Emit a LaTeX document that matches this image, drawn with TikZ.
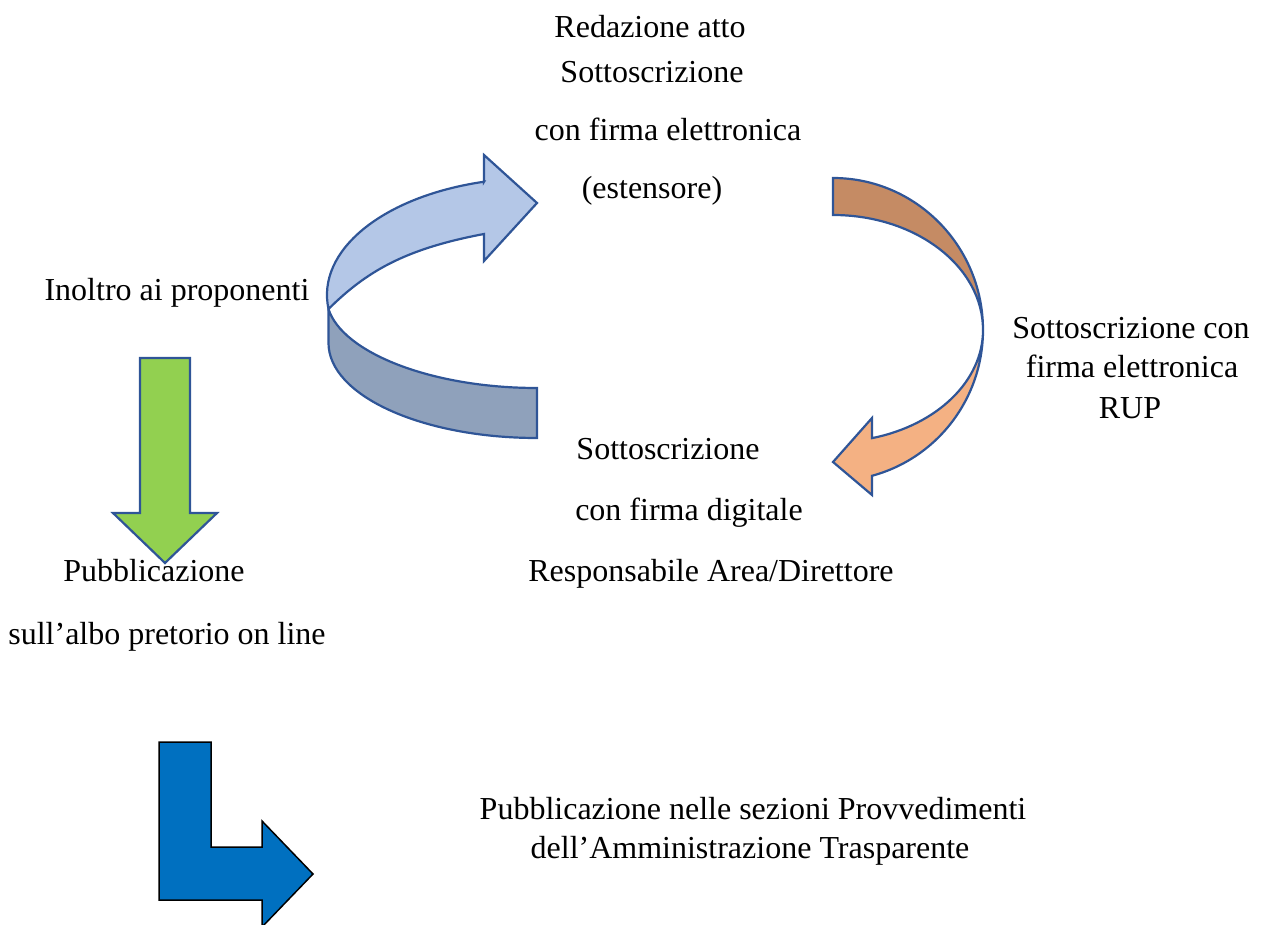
\documentclass[tikz,border=0pt]{standalone}
\usepackage{fontspec}
\setmainfont{Liberation Serif}
\usetikzlibrary{positioning}
\definecolor{ribbonfront}{HTML}{B4C7E7}
\definecolor{ribbonback}{HTML}{8FA1BB}
\definecolor{turnback}{HTML}{C58B64}
\definecolor{turnfront}{HTML}{F4B183}
\definecolor{downgreen}{HTML}{92D050}
\definecolor{bentblue}{HTML}{0070C0}
\definecolor{edgeblue}{HTML}{2F5597}

\begin{document}
\begin{tikzpicture}[x=0.5pt,y=-0.5pt]
            \tikzstyle{stagetext}=[font=\fontsize{16}{19.2}\selectfont, inner sep=0pt, anchor=base]
            \tikzstyle{ribbon}=[draw=edgeblue, line width=1.1pt, line join=miter]
            \tikzstyle{bentarrow}=[draw=black, line width=0.75pt, line join=miter, fill=bentblue]

            \useasboundingbox (0,0) rectangle (1264,925);

            % ribbon arrow on the left
            \draw[ribbon, fill=ribbonback] (328.5,309) -- (328.5,343)
                arc[start angle=180, end angle=270, x radius=104.25pt, y radius=47.5pt]
                -- (537,388) .. controls (430,388) and (342,352) .. cycle;
            \draw[ribbon, fill=ribbonfront] (484,181.8) -- (484,155) -- (537,203) -- (484,261) -- (484,234)
                .. controls (404,249) and (366,272) .. (328.5,309)
                arc[start angle=186.9, end angle=104.6, x radius=105pt, y radius=58.5pt] -- cycle;

            % turning arrow on the right
            \draw[ribbon, fill=turnback] (833,178)
                arc[start angle=90, end angle=0, x radius=75pt, y radius=76pt]
                arc[start angle=0, end angle=90, x radius=75pt, y radius=57.5pt] -- cycle;
            \draw[ribbon, fill=turnfront] (872,438.1) -- (872,418) -- (833,462) -- (872,495) -- (872,475.8)
                arc[start angle=-74.93, end angle=0, x radius=75pt, y radius=75.5pt]
                arc[start angle=0, end angle=-74.93, x radius=75pt, y radius=56pt] -- cycle;

            % down arrow and bent arrow
            \draw[ribbon, fill=downgreen] (140,358) -- (190,358) -- (190,513) -- (217,513)
                -- (165,563) -- (113,513) -- (140,513) -- cycle;
            \draw[bentarrow] (159,742) -- (211,742) -- (211,847) -- (262,847) -- (262,821)
                -- (313,874) -- (262,927) -- (262,900) -- (159,900) -- cycle;

            \node[stagetext] (redazione) at (650,38) {Redazione atto};
            \node[stagetext] (sottoA) at (652,83) {Sottoscrizione};
            \node[stagetext] (firmaA) at (668,141) {con firma elettronica};
            \node[stagetext] (estensore) at (652,199) {(estensore)};

            \node[stagetext] (inoltro) at (177,300) {Inoltro ai proponenti};

            \node[stagetext] (sottoB) at (1131,339) {Sottoscrizione con};
            \node[stagetext] (firmaB) at (1132,378) {firma elettronica};
            \node[stagetext] (rup) at (1130,418) {RUP};

            \node[stagetext] (sottoC) at (668,459) {Sottoscrizione};
            \node[stagetext] (firmaC) at (689,520) {con firma digitale};
            \node[stagetext] (direttore) at (711,581) {Responsabile Area/Direttore};

            \node[stagetext] (pubblA) at (154,581) {Pubblicazione};
            \node[stagetext] (albo) at (167,644) {sull’albo pretorio on line};

            \node[stagetext] (pubblB) at (753,819) {Pubblicazione nelle sezioni Provvedimenti};
            \node[stagetext] (trasparente) at (750,858) {dell’Amministrazione Trasparente};
\end{tikzpicture}
\end{document}
